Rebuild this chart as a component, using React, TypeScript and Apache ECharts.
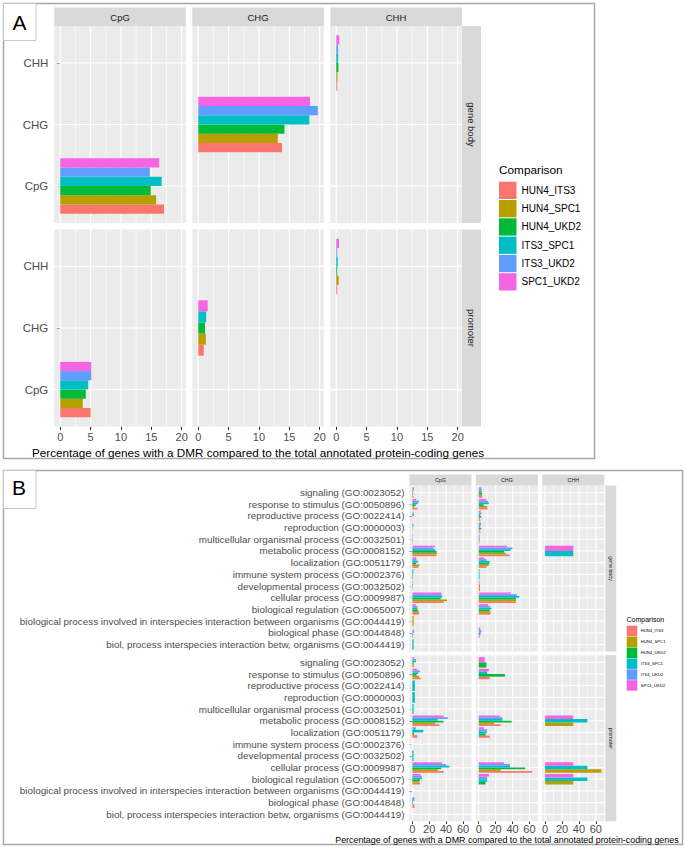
import { useEffect, useRef } from 'react';
import * as echarts from 'echarts';

// ---------------- data ----------------
const COMPARISONS = ['HUN4_ITS3', 'HUN4_SPC1', 'HUN4_UKD2', 'ITS3_SPC1', 'ITS3_UKD2', 'SPC1_UKD2'];
const COLORS = ['#F8766D', '#B79F00', '#00BA38', '#00BFC4', '#619CFF', '#F564E3'];
const CONTEXTS = ['CpG', 'CHG', 'CHH'];
const REGIONS = ['gene body', 'promoter'];
const AXIS_TITLE = 'Percentage of genes with a DMR compared to the total annotated protein-coding genes';

// Panel A: rows = comparisons, columns = [CpG, CHG, CHH]
const A_GENE_BODY = [
  [17.1, 13.8, 0.15],
  [15.8, 13.1, 0.2],
  [14.9, 14.2, 0.35],
  [16.7, 18.3, 0.3],
  [14.75, 19.7, 0.3],
  [16.3, 18.4, 0.5],
];
const A_PROMOTER = [
  [5.0, 0.9, 0.15],
  [3.7, 1.25, 0.4],
  [4.2, 1.1, 0.15],
  [4.6, 1.3, 0.25],
  [5.1, null, 0.15],
  [5.1, 1.55, 0.45],
];
const A_X_TICKS = [0, 5, 10, 15, 20];
const A_X_MINOR = [2.5, 7.5, 12.5, 17.5];

// Panel B: GO terms (top to bottom)
const B_TERMS = [
  'signaling (GO:0023052)',
  'response to stimulus (GO:0050896)',
  'reproductive process (GO:0022414)',
  'reproduction (GO:0000003)',
  'multicellular organismal process (GO:0032501)',
  'metabolic process (GO:0008152)',
  'localization (GO:0051179)',
  'immune system process (GO:0002376)',
  'developmental process (GO:0032502)',
  'cellular process (GO:0009987)',
  'biological regulation (GO:0065007)',
  'biological process involved in interspecies interaction between organisms (GO:0044419)',
  'biological phase (GO:0044848)',
  'biol, process interspecies interaction betw, organisms (GO:0044419)',
];
// rows = comparisons, columns = terms
const B_GENE_BODY_CPG = [
  [1.5, 6, 0.5, 0.5, 0.5, 28.2, 7, null, 0.5, 37.2, 7.8, null, 1, null],
  [1, 2, 0.3, 0.3, 0.5, 29.4, 8.6, null, 0.5, 41.2, 7.8, 1.5, null, null],
  [1, 4, 0.5, 0.5, 0.5, 28.6, 4.5, 0.6, 0.5, 33.5, 6.5, null, null, null],
  [1, 6.5, 2, 1, 0.5, 27.4, 7, 1.2, 0.8, 35.3, 6, null, 1, 1.5],
  [1.5, 7.8, 1.5, 1.5, 0.5, 24.7, 5, null, 0.5, 34.9, 6, null, 2.2, null],
  [2, 4.5, 0.5, 0.5, 0.8, 26.7, 4.7, null, 1, 34.3, 4, null, 0.5, null],
];
const B_GENE_BODY_CHG = [
  [4, 10.5, 2, 2, 0.8, 36.5, 9, null, 1.5, 44, 14, null, 1, null],
  [4, 10, 1.5, 1, 0.8, 32, 11.5, null, 1.5, 44, 14, null, null, null],
  [4, 6, 3, 3, 1, 30, 12.5, null, null, 44, 13, null, null, null],
  [3.5, 12, 2, 1.5, 1, 38, 13, 1, null, 48, 15, null, 2, null],
  [3.5, 11, 3, 2.5, 1, 40, 9.5, null, null, 45, 13, null, 3, null],
  [3, 9, 2.5, 2.5, 1, 33.5, 6.5, null, 1, 38, 11, null, 2, null],
];
const B_GENE_BODY_CHH = [
  [null, null, null, null, null, null, null, null, null, null, null, null, null, null],
  [null, null, null, null, null, null, null, null, null, null, null, null, null, null],
  [null, null, null, null, null, null, null, null, null, null, null, null, null, null],
  [null, null, null, null, null, 33.3, null, null, null, null, null, null, null, null],
  [null, null, null, null, null, null, null, null, null, null, null, null, null, null],
  [null, null, null, null, null, 33.3, null, null, null, null, null, null, null, null],
];
const B_PROMOTER_CPG = [
  [1.5, 10, null, null, null, 32, 6, null, null, 37, 9.5, null, 2.5, null],
  [2, 8, null, null, null, 27, null, null, null, 30, 8, null, null, null],
  [1.5, 5, null, null, null, 37, 2, null, null, 34, 9, null, null, null],
  [4.5, 7, 3, 3, 1.5, 30, 13, null, 1.5, 44, 11.5, null, 0.8, null],
  [4, 9, null, null, null, 42, 4, null, null, 40, 11, null, 2.5, null],
  [2, 6, null, null, null, 37, null, null, null, 35, 10, null, null, null],
];
const B_PROMOTER_CHG = [
  [null, 13, null, null, null, 26, 13, null, null, 63, null, null, null, null],
  [null, null, null, null, null, 18, null, null, null, 26, null, null, null, null],
  [9, 31, null, null, null, 39, 8, null, null, 55, 8, null, null, null],
  [null, 10, null, null, null, 28, 9.5, null, null, 37, 10, null, null, null],
  [null, null, null, null, null, 28, 10, null, null, 37, 10, null, null, null],
  [7, 12, null, null, null, 25, 6, null, null, 30, 12, null, null, null],
];
const B_PROMOTER_CHH = [
  [null, null, null, null, null, null, null, null, null, null, null, null, null, null],
  [null, null, null, null, null, 33.3, null, null, null, 66.7, 33.3, null, null, null],
  [null, null, null, null, null, null, null, null, null, null, null, null, null, null],
  [null, null, null, null, null, 50, null, null, null, 50, 50, null, null, null],
  [null, null, null, null, null, null, null, null, null, null, null, null, null, null],
  [null, null, null, null, null, 33.3, null, null, null, 33.3, 33.3, null, null, null],
];
const B_X_TICKS = [0, 20, 40, 60];
const B_X_MINOR = [10, 30, 50];

// ---------------- layout ----------------
const FONT = '"Liberation Sans", Arial, Helvetica, sans-serif';
const PANEL_BG = '#EBEBEB';
const STRIP_BG = '#D9D9D9';

const A_COL_X = [54.3, 192.3, 330.3];
const A_COL_W = 131.5;
const A_ROW_Y = [26, 229.5];
const A_ROW_H = 197;
const B_COL_X = [409.5, 475.9, 542.3];
const B_COL_W = 62;
const B_ROW_Y = [485.5, 655.3];
const B_ROW_H = 166;

type Row = { pos: number; vals: (number | null)[] };

function barRender(color: string) {
  return (_p: any, api: any) => {
    const v = api.value(0);
    const a = api.coord([0, api.value(1)]);
    const b = api.coord([v, api.value(2)]);
    return {
      type: 'rect',
      shape: { x: Math.min(a[0], b[0]), y: Math.min(a[1], b[1]), width: Math.abs(b[0] - a[0]), height: Math.abs(b[1] - a[1]) },
      style: { fill: color },
    };
  };
}
function gridRender(_p: any, api: any) {
  const a = api.coord([api.value(0), api.value(1)]);
  const b = api.coord([api.value(2), api.value(3)]);
  return { type: 'line', shape: { x1: a[0], y1: a[1], x2: b[0], y2: b[1] }, style: { stroke: '#FFFFFF', lineWidth: api.value(4) } };
}

function buildOption() {
  const grid: any[] = [];
  const xAxis: any[] = [];
  const yAxis: any[] = [];
  const series: any[] = [];
  const graphic: any[] = [];

  const aAll = [...A_GENE_BODY, ...A_PROMOTER].flat().filter((v) => v != null) as number[];
  const aMax = Math.max(...aAll);
  const bAll = [B_GENE_BODY_CPG, B_GENE_BODY_CHG, B_GENE_BODY_CHH, B_PROMOTER_CPG, B_PROMOTER_CHG, B_PROMOTER_CHH]
    .flat(2).filter((v) => v != null) as number[];
  const bMax = Math.max(...bAll);

  const addFacet = (f: any) => {
    const g = grid.length;
    grid.push({ left: f.left, top: f.top, width: f.width, height: f.height, show: true, backgroundColor: PANEL_BG, borderWidth: 0, containLabel: false });
    xAxis.push({
      type: 'value', gridIndex: g, min: f.xMin, max: f.xMax,
      axisLine: { show: false }, splitLine: { show: false },
      axisTick: { show: f.showX, customValues: f.xTicks, length: f.tickLen, lineStyle: { color: '#333333', width: 1 } },
      axisLabel: {
        show: f.showX, customValues: f.xTicks, color: '#4D4D4D', fontSize: f.xFont, fontFamily: FONT, margin: f.xMargin,
        formatter: (v: number) => (f.xTicks.includes(v) ? String(v) : ''),
      },
    });
    yAxis.push({
      type: 'value', gridIndex: g, min: f.yMin, max: f.yMax,
      axisLine: { show: false }, splitLine: { show: false },
      axisTick: { show: f.showY, customValues: f.yPos, length: f.tickLen, lineStyle: { color: '#333333', width: 1 } },
      axisLabel: {
        show: f.showY, customValues: f.yPos, color: '#4D4D4D', fontSize: f.yFont, fontFamily: FONT, margin: f.yMargin,
        formatter: (v: number) => {
          const i = f.yPos.indexOf(v);
          return i >= 0 ? f.yNames[i] : '';
        },
      },
    });
    const lines: number[][] = [];
    f.xMinor.forEach((t: number) => lines.push([t, f.yMin, t, f.yMax, 0.6]));
    f.xTicks.forEach((t: number) => lines.push([t, f.yMin, t, f.yMax, 1.2]));
    f.yPos.forEach((p: number) => lines.push([f.xMin, p, f.xMax, p, 1.2]));
    series.push({ type: 'custom', xAxisIndex: g, yAxisIndex: g, z: 1, silent: true, renderItem: gridRender, data: lines });
    COMPARISONS.forEach((name, k) => {
      const items: number[][] = [];
      (f.rows as Row[]).forEach((row) => {
        const present = row.vals.map((v, i) => (v == null ? -1 : i)).filter((i) => i >= 0);
        const slot = present.indexOf(k);
        if (slot < 0) return;
        const w = 0.9 / present.length;
        const y0 = row.pos - 0.45 + slot * w;
        items.push([row.vals[k] as number, y0, y0 + w]);
      });
      series.push({
        type: 'custom', name, xAxisIndex: g, yAxisIndex: g, z: 3, silent: true,
        itemStyle: { color: COLORS[k] }, renderItem: barRender(COLORS[k]), data: items,
      });
    });
  };

  // ---- Panel A facets
  const aData = [A_GENE_BODY, A_PROMOTER];
  REGIONS.forEach((_, r) => {
    CONTEXTS.forEach((_c, c) => {
      addFacet({
        left: A_COL_X[c], top: A_ROW_Y[r], width: A_COL_W, height: A_ROW_H,
        xMin: -0.05 * aMax, xMax: 1.05 * aMax, yMin: 0.4, yMax: CONTEXTS.length + 0.6,
        xTicks: A_X_TICKS, xMinor: A_X_MINOR,
        yPos: CONTEXTS.map((_n, i) => i + 1), yNames: CONTEXTS,
        showX: r === 1, showY: c === 0, xFont: 11, yFont: 11.5, xMargin: 5, yMargin: 6, tickLen: 3.5,
        rows: [{ pos: c + 1, vals: aData[r].map((row) => row[c]) }],
      });
    });
  });

  // ---- Panel B facets
  const bData = [
    [B_GENE_BODY_CPG, B_GENE_BODY_CHG, B_GENE_BODY_CHH],
    [B_PROMOTER_CPG, B_PROMOTER_CHG, B_PROMOTER_CHH],
  ];
  const n = B_TERMS.length;
  REGIONS.forEach((_, r) => {
    CONTEXTS.forEach((_c, c) => {
      const d = bData[r][c];
      addFacet({
        left: B_COL_X[c], top: B_ROW_Y[r], width: B_COL_W, height: B_ROW_H,
        xMin: -0.05 * bMax, xMax: 1.05 * bMax, yMin: 0.4, yMax: n + 0.6,
        xTicks: B_X_TICKS, xMinor: B_X_MINOR,
        yPos: B_TERMS.map((_t, i) => n - i), yNames: B_TERMS,
        showX: r === 1, showY: c === 0, xFont: 11, yFont: 9.85, xMargin: 2.5, yMargin: 5, tickLen: 2.7,
        rows: B_TERMS.map((_t, i) => ({ pos: n - i, vals: d.map((row) => row[i]) })),
      });
    });
  });

  // ---- decorations
  const txt = (x: number, y: number, text: string, size: number, opts: any = {}) => ({
    type: 'text', x, y, rotation: opts.rotation || 0, silent: true,
    style: {
      text, fill: opts.fill || '#000000', font: `${size}px ${FONT}`, fontSize: size, fontFamily: FONT,
      align: opts.align || 'center', verticalAlign: 'middle',
      textAlign: opts.align || 'center', textVerticalAlign: 'middle',
    },
  });
  const rect = (x: number, y: number, w: number, h: number, style: any) => ({ type: 'rect', silent: true, shape: { x, y, width: w, height: h }, style });

  // borders
  graphic.push(rect(3.5, 3.5, 591, 455, { fill: 'none', stroke: '#A6A6A6', lineWidth: 1.5 }));
  graphic.push(rect(3.5, 470.5, 679, 374, { fill: 'none', stroke: '#A6A6A6', lineWidth: 1.5 }));
  graphic.push(rect(3.5, 3.5, 32.5, 37, { fill: '#FFFFFF', stroke: '#C8C8C8', lineWidth: 1 }));
  graphic.push(txt(19.5, 22.5, 'A', 21));
  graphic.push(rect(3.5, 470.5, 32.5, 38, { fill: '#FFFFFF', stroke: '#C8C8C8', lineWidth: 1 }));
  graphic.push(txt(19, 487, 'B', 21));

  // strips
  CONTEXTS.forEach((name, c) => {
    graphic.push(rect(A_COL_X[c], 7.5, A_COL_W, 18.5, { fill: STRIP_BG }));
    graphic.push(txt(A_COL_X[c] + A_COL_W / 2, 17, name, 9.5, { fill: '#1A1A1A' }));
    graphic.push(rect(B_COL_X[c], 474.5, B_COL_W, 11, { fill: STRIP_BG }));
    graphic.push(txt(B_COL_X[c] + B_COL_W / 2, 480, name, 5.3, { fill: '#1A1A1A' }));
  });
  REGIONS.forEach((name, r) => {
    graphic.push(rect(462, A_ROW_Y[r], 19, A_ROW_H, { fill: STRIP_BG }));
    graphic.push(txt(471.5, A_ROW_Y[r] + A_ROW_H / 2, name, 9.5, { fill: '#1A1A1A', rotation: -Math.PI / 2 }));
    graphic.push(rect(605.3, B_ROW_Y[r], 11, B_ROW_H, { fill: STRIP_BG }));
    graphic.push(txt(610.8, B_ROW_Y[r] + B_ROW_H / 2, name, 5.3, { fill: '#1A1A1A', rotation: -Math.PI / 2 }));
  });

  // axis titles
  graphic.push(txt((A_COL_X[0] + A_COL_X[2] + A_COL_W) / 2, 452, AXIS_TITLE, 11.7));
  graphic.push(txt((B_COL_X[0] + B_COL_X[2] + B_COL_W) / 2, 840, AXIS_TITLE, 8.9));

  // legend titles
  graphic.push(txt(499, 170, 'Comparison', 11.8, { align: 'left' }));
  graphic.push(txt(626.5, 619, 'Comparison', 7, { align: 'left' }));

  const legendData = COMPARISONS.map((name, k) => ({ name, itemStyle: { color: COLORS[k] } }));
  const legend = [
    {
      orient: 'vertical', left: 499, top: 181.7, padding: 0, itemWidth: 17.5, itemHeight: 17.3, itemGap: 1,
      icon: 'rect', selectedMode: false, data: legendData,
      textStyle: { fontSize: 10, fontFamily: FONT, color: '#000000' },
    },
    {
      orient: 'vertical', left: 626.7, top: 625.7, padding: 0, itemWidth: 10.6, itemHeight: 10.5, itemGap: 0.4,
      icon: 'rect', selectedMode: false, data: legendData,
      textStyle: { fontSize: 4.2, fontFamily: FONT, color: '#000000', padding: [0, 0, 0, -1.5] },
    },
  ];

  return { animation: false, backgroundColor: '#FFFFFF', grid, xAxis, yAxis, series, graphic, legend, textStyle: { fontFamily: FONT } };
}

export default function App() {
  const ref = useRef<HTMLDivElement>(null);
  useEffect(() => {
    if (!ref.current) return;
    const chart = echarts.init(ref.current, undefined, { renderer: 'svg' });
    chart.setOption(buildOption() as any);
    return () => chart.dispose();
  }, []);
  return <div ref={ref} style={{ position: 'absolute', left: 0, top: 0, width: 685, height: 849 }} />;
}
